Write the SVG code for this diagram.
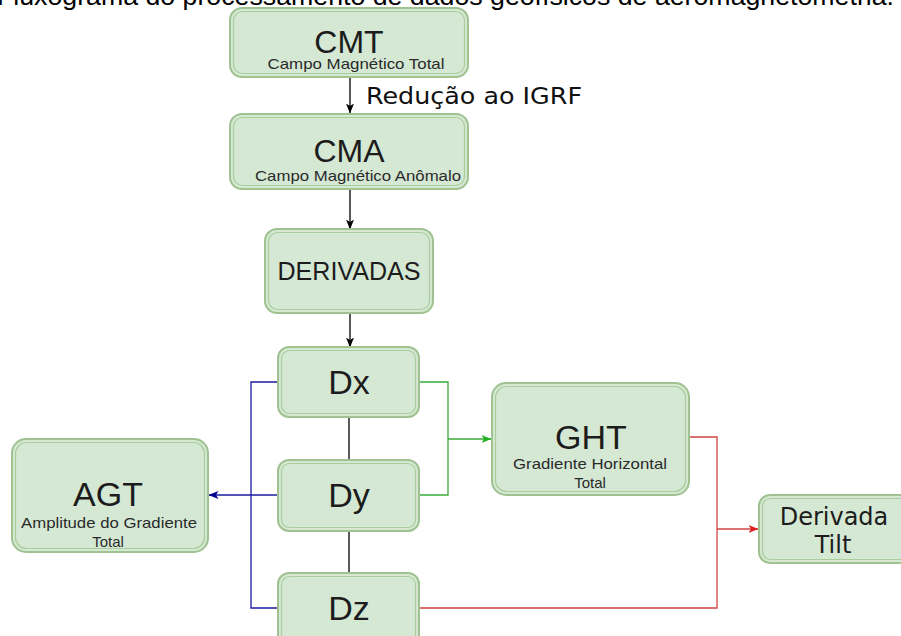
<svg xmlns="http://www.w3.org/2000/svg" width="901" height="636" viewBox="0 0 901 636">
<defs>
<style>
.box{fill:#d5e8d4;stroke:#9fc290;stroke-width:2}
.inner{fill:none;stroke:#a9cd9b;stroke-width:1.2}
.big{font-family:"Liberation Sans",Arial,sans-serif;font-size:34px;fill:#1c1c1c;text-anchor:middle}
.big2{font-family:"Liberation Sans",Arial,sans-serif;font-size:32px;fill:#1c1c1c;text-anchor:middle}
.sub{font-family:"Liberation Sans",Arial,sans-serif;font-size:15px;fill:#2a2a2a;text-anchor:middle}
.mid{font-family:"Liberation Sans",Arial,sans-serif;font-size:25px;fill:#1c1c1c;text-anchor:middle}
.dv{font-family:"DejaVu Sans",Verdana,sans-serif;font-size:24px;fill:#1c1c1c;text-anchor:middle}
.title{font-family:"Liberation Sans",Arial,sans-serif;font-size:26px;fill:#000}
.lbl{font-family:"DejaVu Sans",Verdana,sans-serif;font-size:23px;fill:#111}
.c{fill:none;stroke-width:1.3}
</style>
<marker id="aBlack" viewBox="0 0 10 8" markerWidth="10" markerHeight="8" refX="9.5" refY="4" orient="auto" markerUnits="userSpaceOnUse"><path d="M0,0 L10,4 L0,8 L2.5,4 Z" fill="#000"/></marker>
<marker id="aBlue" viewBox="0 0 10 8" markerWidth="10" markerHeight="8" refX="9.5" refY="4" orient="auto" markerUnits="userSpaceOnUse"><path d="M0,0 L10,4 L0,8 L2.5,4 Z" fill="#00008f"/></marker>
<marker id="aGreen" viewBox="0 0 10 8" markerWidth="10" markerHeight="8" refX="9.5" refY="4" orient="auto" markerUnits="userSpaceOnUse"><path d="M0,0 L10,4 L0,8 L2.5,4 Z" fill="#22b022"/></marker>
<marker id="aRed" viewBox="0 0 10 8" markerWidth="10" markerHeight="8" refX="9.5" refY="4" orient="auto" markerUnits="userSpaceOnUse"><path d="M0,0 L10,4 L0,8 L2.5,4 Z" fill="#e01e1e"/></marker>
</defs>
<rect width="901" height="636" fill="#fff"/>

<text class="title" x="-3" y="5" textLength="897" lengthAdjust="spacingAndGlyphs">Fluxograma do processamento de dados geofísicos de aeromagnetometria.</text>

<g id="connectors">
<path class="c" stroke="#000" d="M350 77 V113" marker-end="url(#aBlack)"/>
<path class="c" stroke="#000" d="M350 189 V229" marker-end="url(#aBlack)"/>
<path class="c" stroke="#000" d="M350 313 V347" marker-end="url(#aBlack)"/>
<path class="c" stroke="#000" d="M349 417 V460"/>
<path class="c" stroke="#000" d="M349 531 V573"/>
<path class="c" stroke="#1a1aa0" d="M278 382 H251 V608 H278"/>
<path class="c" stroke="#1a1aa0" d="M278 495 H209" marker-end="url(#aBlue)"/>
<path class="c" stroke="#3aaa3a" d="M419 382 H448 V495 H419"/>
<path class="c" stroke="#3aaa3a" d="M448 439 H491" marker-end="url(#aGreen)"/>
<path class="c" stroke="#d04444" d="M689 437 H717 V608 H419"/>
<path class="c" stroke="#d04444" d="M717 529 H758" marker-end="url(#aRed)"/>
<text class="lbl" x="366" y="104" textLength="216" lengthAdjust="spacingAndGlyphs">Redução ao IGRF</text>
</g>

<g id="CMT">
<rect class="box" x="230" y="8" width="238" height="69" rx="12"/>
<rect class="inner" x="233.5" y="11.5" width="231" height="62" rx="9"/>
<text class="big2" x="349" y="53">CMT</text>
<text class="sub" x="356" y="69" textLength="177" lengthAdjust="spacingAndGlyphs">Campo Magnético Total</text>
</g>

<g id="CMA">
<rect class="box" x="230" y="114" width="238" height="75" rx="12"/>
<rect class="inner" x="233.5" y="117.5" width="231" height="68" rx="9"/>
<text class="big2" x="349" y="162">CMA</text>
<text class="sub" x="358" y="181" textLength="206" lengthAdjust="spacingAndGlyphs">Campo Magnético Anômalo</text>
</g>

<g id="DERIVADAS">
<rect class="box" x="265" y="229" width="168" height="84" rx="12"/>
<rect class="inner" x="268.5" y="232.5" width="161" height="77" rx="9"/>
<text class="mid" x="349" y="280" textLength="143" lengthAdjust="spacingAndGlyphs">DERIVADAS</text>
</g>

<g id="Dx">
<rect class="box" x="278" y="347" width="141" height="70" rx="11"/>
<rect class="inner" x="281.5" y="350.5" width="134" height="63" rx="8"/>
<text class="big" x="349" y="394">Dx</text>
</g>

<g id="Dy">
<rect class="box" x="278" y="460" width="141" height="71" rx="11"/>
<rect class="inner" x="281.5" y="463.5" width="134" height="64" rx="8"/>
<text class="big" x="349" y="507">Dy</text>
</g>

<g id="Dz">
<rect class="box" x="278" y="573" width="141" height="80" rx="11"/>
<rect class="inner" x="281.5" y="576.5" width="134" height="73" rx="8"/>
<text class="big" x="349" y="620">Dz</text>
</g>

<g id="AGT">
<rect class="box" x="12" y="439" width="196" height="113" rx="14"/>
<rect class="inner" x="15.5" y="442.5" width="189" height="106" rx="11"/>
<text class="big" x="108" y="506">AGT</text>
<text class="sub" x="109" y="528" textLength="176" lengthAdjust="spacingAndGlyphs">Amplitude do Gradiente</text>
<text class="sub" x="108" y="547">Total</text>
</g>

<g id="GHT">
<rect class="box" x="492" y="383" width="197" height="112" rx="14"/>
<rect class="inner" x="495.5" y="386.5" width="190" height="105" rx="11"/>
<text class="big" x="591" y="449">GHT</text>
<text class="sub" x="590" y="469" textLength="154" lengthAdjust="spacingAndGlyphs">Gradiente Horizontal</text>
<text class="sub" x="590" y="488">Total</text>
</g>

<g id="Tilt">
<rect class="box" x="759" y="495" width="155" height="68" rx="11"/>
<rect class="inner" x="762.5" y="498.5" width="148" height="61" rx="8"/>
<text class="dv" x="834" y="525">Derivada</text>
<text class="dv" x="833" y="553">Tilt</text>
</g>
</svg>
